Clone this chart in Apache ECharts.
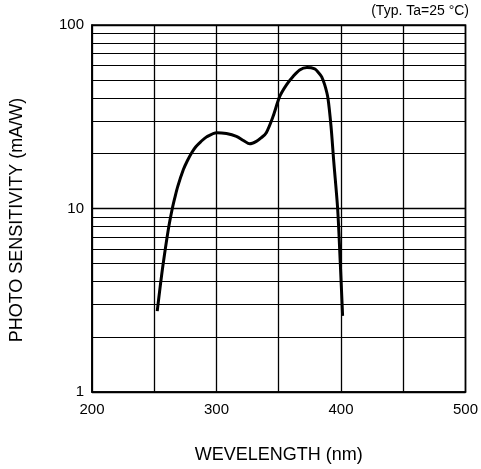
<!DOCTYPE html>
<html>
<head>
<meta charset="utf-8">
<script src="https://cdn.jsdelivr.net/npm/echarts@6/dist/echarts.min.js"></script>
<style>
html,body{margin:0;padding:0;background:#fff;}
#c{width:481px;height:469px;}
</style>
</head>
<body>
<div id="c"></div>
<script>
// Wavelength (nm) and photo sensitivity (mA/W)
var wavelength = [252.4, 254.8, 257.2, 261.3, 264.5, 266.6, 268.9, 273.4, 276.6, 280.2, 283.4, 287.3, 292.2, 300.3, 308, 316, 322, 326.7, 332, 336, 340, 345.4, 350.8, 356.2, 361.5, 366.8, 372.7, 378.9, 382, 384.5, 387, 389.5, 392, 394.2, 397.3, 399.4, 401.3];
var sensitivity = [2.76, 3.77, 5.02, 7.69, 10, 11.5, 13.2, 16.3, 18.2, 20.2, 21.7, 23.1, 24.6, 25.9, 25.6, 24.7, 23.4, 22.5, 23.2, 24.3, 25.9, 31.7, 40.8, 47.2, 52.4, 56.9, 58.6, 57.6, 55, 52.2, 47, 40, 28, 18, 10, 5.1, 2.6];
var xTickLabels = [200, 300, 400, 500];
var yTickLabels = [1, 10, 100];
var yMinorLines = [2, 3, 4, 5, 6, 7, 8, 9, 20, 30, 40, 50, 60, 70, 80, 90];

var points = wavelength.map(function (w, i) { return [w, sensitivity[i]]; });
var font = 'Liberation Sans, Arial, sans-serif';

var chart = echarts.init(document.getElementById('c'), null, {renderer: 'canvas'});
chart.setOption({
  animation: false,
  backgroundColor: '#fff',
  title: {
    text: '(Typ. Ta=25 °C)',
    right: 12,
    top: 4,
    padding: 0,
    textStyle: {fontFamily: font, fontSize: 14, fontWeight: 'normal', color: '#000'}
  },
  graphic: [{
    type: 'text',
    x: 17,
    y: 220,
    rotation: Math.PI / 2,
    style: {
      text: 'PHOTO SENSITIVITY (mA/W)',
      fontFamily: font, fontSize: 18, fill: '#000',
      align: 'center', verticalAlign: 'middle'
    }
  }],
  grid: {
    left: 92, right: 15, top: 25, bottom: 76,
    show: true, borderColor: '#000', borderWidth: 1.6, backgroundColor: 'transparent'
  },
  xAxis: {
    type: 'value',
    min: 200, max: 500, interval: 50,
    name: 'WEVELENGTH (nm)',
    nameLocation: 'middle',
    nameGap: 54,
    nameTextStyle: {fontFamily: font, fontSize: 18, color: '#000'},
    axisLine: {show: true, lineStyle: {color: '#000', width: 1.6}},
    axisTick: {show: false},
    axisLabel: {
      margin: 10,
      fontFamily: font, fontSize: 15, color: '#000',
      formatter: function (v) { return xTickLabels.indexOf(v) >= 0 ? String(v) : ''; }
    },
    splitLine: {show: true, lineStyle: {color: '#000', width: 1.3}}
  },
  yAxis: {
    type: 'log',
    logBase: 10,
    min: 1, max: 100,
    axisLine: {show: true, lineStyle: {color: '#000', width: 1.6}},
    axisTick: {show: false},
    axisLabel: {
      margin: 8,
      fontFamily: font, fontSize: 15, color: '#000',
      formatter: function (v) { return yTickLabels.indexOf(Math.round(v)) >= 0 ? String(Math.round(v)) : ''; }
    },
    splitLine: {show: true, lineStyle: {color: '#000', width: 1.3}}
  },
  series: [
    {
      type: 'line',
      data: [],
      silent: true,
      markLine: {
        silent: true,
        symbol: ['none', 'none'],
        label: {show: false},
        lineStyle: {color: '#000', width: 1.2, type: 'solid'},
        data: yMinorLines.map(function (v) { return {yAxis: v}; })
      }
    },
    {
      type: 'line',
      data: points,
      smooth: 0.3,
      showSymbol: false,
      lineStyle: {color: '#000', width: 3},
      z: 5
    }
  ]
});
</script>
</body>
</html>
